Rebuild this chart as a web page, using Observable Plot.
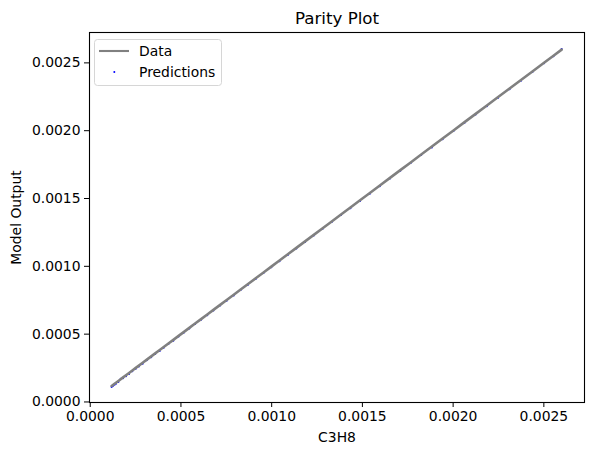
<!DOCTYPE html>
<html>
<head>
<meta charset="utf-8">
<script src="https://cdn.jsdelivr.net/npm/d3@7"></script>
<script src="https://cdn.jsdelivr.net/npm/@observablehq/plot@0.6"></script>
<style>
  html, body { margin: 0; padding: 0; background: #fff; }
  #chart { position: relative; width: 593px; height: 455px; }
  svg { font-family: "DejaVu Sans", sans-serif; }
</style>
</head>
<body>
<div id="chart"></div>
<script>
// Actual values (C3H8)
const actual = [0.000118, 0.000125, 0.000134, 0.000142, 0.000155, 0.000168, 0.000181, 0.000197,
  0.000214, 0.000232, 0.000251, 0.000268, 0.000289, 0.000312, 0.000336, 0.000358, 0.000383,
  0.000405, 0.000431, 0.000458, 0.000487, 0.000515, 0.000546, 0.000578, 0.000611, 0.000645,
  0.000679, 0.000716, 0.000752, 0.000791, 0.000829, 0.000868, 0.000912, 0.000955, 0.000998,
  0.001043, 0.001089, 0.001136, 0.001184, 0.001232, 0.001281, 0.001331, 0.001382, 0.001434,
  0.001487, 0.001541, 0.001596, 0.001652, 0.001709, 0.001766, 0.001824, 0.001883, 0.001942,
  0.002002, 0.002063, 0.002124, 0.002186, 0.002248, 0.002311, 0.002374, 0.002437, 0.002501,
  0.002553, 0.002598];
// Model predictions
const predicted = [0.000110, 0.000117, 0.000127, 0.000135, 0.000147, 0.000172, 0.000174, 0.000189,
  0.000207, 0.000226, 0.000244, 0.000262, 0.000282, 0.000308, 0.000330, 0.000353, 0.000376,
  0.000400, 0.000427, 0.000452, 0.000483, 0.000511, 0.000542, 0.000574, 0.000606, 0.000640,
  0.000674, 0.000711, 0.000747, 0.000785, 0.000825, 0.000863, 0.000906, 0.000950, 0.000994,
  0.001038, 0.001084, 0.001131, 0.001179, 0.001228, 0.001277, 0.001326, 0.001378, 0.001429,
  0.001482, 0.001535, 0.001591, 0.001647, 0.001704, 0.001761, 0.001820, 0.001877, 0.001937,
  0.001997, 0.002058, 0.002119, 0.002181, 0.002243, 0.002306, 0.002369, 0.002432, 0.002497,
  0.002548, 0.002602];
const ticks = [0, 0.0005, 0.0010, 0.0015, 0.0020, 0.0025];
const domain = [-0.000004, 0.002724];
const titleText = "Parity Plot";
const xLabel = "C3H8";
const yLabel = "Model Output";
const legendLabels = ["Data", "Predictions"];

const lineData = actual.map(v => ({x: v, y: v}));
const pointData = actual.map((v, i) => ({x: v, y: predicted[i]}));
const fmt = d => d.toFixed(4);

const plot = Plot.plot({
  width: 593,
  height: 455,
  marginLeft: 89,
  marginRight: 9,
  marginTop: 32,
  marginBottom: 53,
  style: {fontFamily: "DejaVu Sans, sans-serif", fontSize: "13.9px", color: "black", background: "white"},
  x: {domain, ticks},
  y: {domain, ticks},
  marks: [
    Plot.dot(pointData, {x: "x", y: "y", r: 1, fill: "blue", stroke: null}),
    Plot.line(lineData, {x: "x", y: "y", stroke: "gray", strokeWidth: 2.6}),
    Plot.frame({stroke: "black", strokeWidth: 1.1}),
    Plot.axisX({ticks, tickFormat: fmt, tickSize: 5, tickPadding: 4, fontSize: 13.9,
      label: xLabel, labelAnchor: "center", labelArrow: "none", labelOffset: 39}),
    Plot.axisY({ticks, tickFormat: fmt, tickSize: 5, tickPadding: 4, fontSize: 13.9,
      label: yLabel, labelAnchor: "center", labelArrow: "none", labelOffset: 78}),
    Plot.text([titleText], {text: d => d, frameAnchor: "top", lineAnchor: "middle", dy: -14, fontSize: 16.7, fill: "black"})
  ]
});
document.getElementById("chart").appendChild(plot);

// Legend
const svg = d3.select(plot);
const g = svg.append("g").attr("font-family", "DejaVu Sans, sans-serif").attr("font-size", 13.9)
  .attr("text-anchor", "start");
g.append("rect").attr("x", 94.5).attr("y", 39.5).attr("width", 127).attr("height", 46)
  .attr("rx", 3).attr("fill", "white").attr("fill-opacity", 0.8).attr("stroke", "#d6d6d6");
g.append("line").attr("x1", 99).attr("x2", 129).attr("y1", 51).attr("y2", 51)
  .attr("stroke", "gray").attr("stroke-width", 2.1);
g.append("circle").attr("cx", 114.3).attr("cy", 72).attr("r", 1).attr("fill", "blue");
g.append("text").attr("x", 139).attr("y", 51).attr("dy", "0.35em").attr("fill", "black").text(legendLabels[0]);
g.append("text").attr("x", 139).attr("y", 72).attr("dy", "0.35em").attr("fill", "black").text(legendLabels[1]);
</script>
</body>
</html>
